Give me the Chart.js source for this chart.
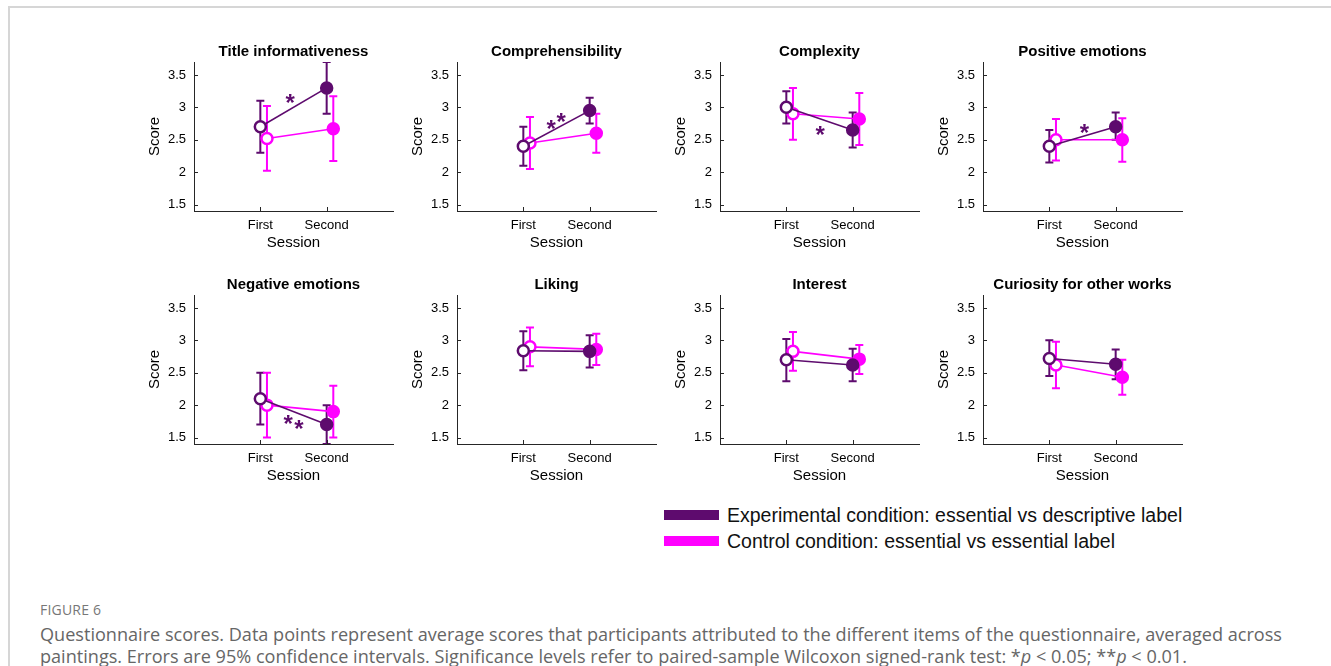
<!DOCTYPE html>
<html>
<head>
<meta charset="utf-8">
<script src="https://cdn.jsdelivr.net/npm/chart.js@4.4.1/dist/chart.umd.min.js"></script>
<style>
  body { margin: 0; background: #fff; width: 1331px; height: 666px; overflow: hidden; position: relative; font-family: 'Liberation Sans', Arial, sans-serif; }
  #frame { position: absolute; left: 8px; top: 6px; width: 1400px; height: 700px; border-top: 2px solid #d6d6d6; border-left: 2px solid #d6d6d6; }
  canvas.panel { position: absolute; }
  .leg { position: absolute; left: 664px; height: 26px; display: flex; align-items: center; font-size: 19.5px; color: #111; white-space: nowrap; }
  .leg span.patch { display: inline-block; width: 55px; height: 10px; margin-right: 8px; }
  #figlabel { position: absolute; left: 40px; top: 600px; font-family: 'Open Sans', sans-serif; font-size: 14px; color: #777; letter-spacing: 0.2px; }
  #caption { position: absolute; left: 40px; top: 624px; font-family: 'Open Sans', sans-serif; font-size: 18.1px; line-height: 21.5px; color: #666; white-space: nowrap; }
</style>
</head>
<body>
<div id="frame"></div>
<div id="panels"></div>
<div class="leg" style="top:502px"><span class="patch" style="background:#5e0b6e"></span>Experimental condition: essential vs descriptive label</div>
<div class="leg" style="top:528px"><span class="patch" style="background:#ff00ff"></span>Control condition: essential vs essential label</div>
<div id="figlabel">FIGURE 6</div>
<div id="caption">Questionnaire scores. Data points represent average scores that participants attributed to the different items of the questionnaire, averaged across<br>paintings. Errors are 95% confidence intervals. Significance levels refer to paired-sample Wilcoxon signed-rank test: *<i>p</i> &lt; 0.05; **<i>p</i> &lt; 0.01.</div>

<script>
// 설문 항목 (패널 제목)
const panelTitles = ['Title informativeness', 'Comprehensibility', 'Complexity', 'Positive emotions',
  'Negative emotions', 'Liking', 'Interest', 'Curiosity for other works'];
const sessions = ['First', 'Second'];
const yTickValues = [1.5, 2, 2.5, 3, 3.5];

// 실험 조건 평균 및 95% 신뢰구간 [First, Second]
const expMean = [[2.7, 3.3], [2.4, 2.95], [3.0, 2.65], [2.4, 2.7], [2.1, 1.7], [2.84, 2.83], [2.7, 2.62], [2.72, 2.63]];
const expLow  = [[2.3, 2.9], [2.1, 2.75], [2.75, 2.38], [2.15, 2.5], [1.7, 1.4], [2.54, 2.58], [2.37, 2.37], [2.45, 2.4]];
const expHigh = [[3.1, 3.7], [2.7, 3.15], [3.25, 2.92], [2.65, 2.92], [2.5, 2.0], [3.14, 3.08], [3.02, 2.87], [3.0, 2.86]];

// 통제 조건 평균 및 95% 신뢰구간
const ctlMean = [[2.52, 2.67], [2.45, 2.6], [2.9, 2.82], [2.5, 2.5], [2.0, 1.9], [2.9, 2.86], [2.83, 2.71], [2.62, 2.43]];
const ctlLow  = [[2.02, 2.17], [2.05, 2.3], [2.5, 2.42], [2.18, 2.16], [1.5, 1.5], [2.6, 2.62], [2.53, 2.48], [2.26, 2.16]];
const ctlHigh = [[3.02, 3.17], [2.85, 2.9], [3.3, 3.22], [2.82, 2.83], [2.5, 2.3], [3.2, 3.1], [3.13, 2.93], [2.98, 2.7]];

// 유의성 표시(*) 위치 [x, y]
const starMarks = [[[1.45, 3.16]], [[1.42, 2.76], [1.57, 2.86]], [[1.51, 2.66]], [[1.53, 2.69]],
  [[1.42, 1.79], [1.58, 1.72]], [], [], []];

const expColor = '#5e0b6e';
const ctlColor = '#ff00ff';
const ctlShift = 0.1;  // 통제 조건은 오른쪽으로 약간 이동
const axisColor = '#262626';
const FONT = "'Liberation Sans', Arial, sans-serif";
const STAR_SIZE = 24;

// 오차 막대
const errorBarPlugin = {
  id: 'errorBars',
  beforeDatasetsDraw(chart) {
    const { ctx, chartArea, scales: { x, y } } = chart;
    ctx.save();
    ctx.beginPath();
    ctx.rect(chartArea.left, chartArea.top, chartArea.right - chartArea.left, chartArea.bottom - chartArea.top);
    ctx.clip();
    chart.data.datasets.forEach(ds => {
      ctx.strokeStyle = ds.borderColor;
      ctx.lineWidth = 2;
      ds.data.forEach((p, i) => {
        const px = x.getPixelForValue(p.x);
        const lo = y.getPixelForValue(ds.errLow[i]);
        const hi = y.getPixelForValue(ds.errHigh[i]);
        ctx.beginPath();
        ctx.moveTo(px, lo); ctx.lineTo(px, hi);
        ctx.moveTo(px - 4, lo); ctx.lineTo(px + 4, lo);
        ctx.moveTo(px - 4, hi); ctx.lineTo(px + 4, hi);
        ctx.stroke();
      });
    });
    ctx.restore();
  }
};

// 안쪽 눈금 및 별표
const decoPlugin = {
  id: 'deco',
  afterDraw(chart, args, opts) {
    const { ctx, chartArea, scales: { x, y } } = chart;
    ctx.save();
    ctx.strokeStyle = axisColor;
    ctx.lineWidth = 1;
    ctx.beginPath();
    yTickValues.forEach(v => {
      const py = Math.round(y.getPixelForValue(v)) + 0.5;
      ctx.moveTo(chartArea.left, py); ctx.lineTo(chartArea.left + 4, py);
    });
    [1, 2].forEach(v => {
      const px = Math.round(x.getPixelForValue(v)) + 0.5;
      ctx.moveTo(px, chartArea.bottom); ctx.lineTo(px, chartArea.bottom - 4);
    });
    ctx.stroke();
    ctx.fillStyle = expColor;
    ctx.font = 'bold ' + STAR_SIZE + 'px ' + FONT;
    ctx.textAlign = 'center';
    ctx.textBaseline = 'alphabetic';
    (opts.stars || []).forEach(s => {
      ctx.fillText('*', x.getPixelForValue(s[0]), y.getPixelForValue(s[1]) + 0.57 * STAR_SIZE);
    });
    ctx.restore();
  }
};

const holder = document.getElementById('panels');

panelTitles.forEach((title, k) => {
  const col = k % 4, row = Math.floor(k / 4);
  const canvas = document.createElement('canvas');
  canvas.className = 'panel';
  canvas.width = 319;   // 왼쪽 축 60 + 그림 199 + 오른쪽 빈 축 60
  canvas.height = 213;
  canvas.style.left = (134 + 263 * col) + 'px';
  canvas.style.top = (row === 0 ? 40 : 273) + 'px';
  holder.appendChild(canvas);

  const makeSet = (label, mean, low, high, color, shift) => ({
    label: label,
    data: sessions.map((s, i) => ({ x: i + 1 + shift, y: mean[i] })),
    errLow: low,
    errHigh: high,
    borderColor: color,
    backgroundColor: color,
    borderWidth: 1.6,
    pointRadius: 5.5,
    pointBorderWidth: 2.5,
    pointBorderColor: color,
    pointBackgroundColor: ['#ffffff', color],
    clip: false
  });

  new Chart(canvas, {
    type: 'line',
    data: {
      datasets: [
        makeSet('Experimental', expMean[k], expLow[k], expHigh[k], expColor, 0),
        makeSet('Control', ctlMean[k], ctlLow[k], ctlHigh[k], ctlColor, ctlShift)
      ]
    },
    options: {
      responsive: false,
      animation: false,
      events: [],
      devicePixelRatio: 1,
      layout: { padding: 0 },
      plugins: {
        legend: { display: false },
        tooltip: { enabled: false },
        title: {
          display: true,
          text: title,
          color: '#000',
          font: { family: FONT, size: 15, weight: 'bold' },
          padding: { top: 3, bottom: 1 }
        },
        deco: { stars: starMarks[k] }
      },
      scales: {
        x: {
          type: 'linear',
          min: 0,
          max: 3,
          afterBuildTicks: s => { s.ticks = [{ value: 1 }, { value: 2 }]; },
          afterFit: s => { s.height = 42; },
          grid: { display: true, drawOnChartArea: false, drawTicks: false },
          border: { display: true, color: axisColor, width: 1 },
          ticks: {
            callback: v => sessions[v - 1],
            color: '#000',
            padding: 7,
            maxRotation: 0,
            autoSkip: false,
            font: { family: FONT, size: 13 }
          },
          title: {
            display: true,
            text: 'Session',
            color: '#000',
            font: { family: FONT, size: 15 },
            padding: { top: 0, bottom: 1 }
          }
        },
        y: {
          min: 1.4,
          max: 3.7,
          afterBuildTicks: s => { s.ticks = yTickValues.map(v => ({ value: v })); },
          afterFit: s => { s.width = 60; },
          grid: { display: true, drawOnChartArea: false, drawTicks: false },
          border: { display: true, color: axisColor, width: 1 },
          ticks: {
            callback: v => String(v),
            color: '#000',
            padding: 8,
            autoSkip: false,
            font: { family: FONT, size: 13 }
          },
          title: {
            display: true,
            text: 'Score',
            color: '#000',
            font: { family: FONT, size: 15 },
            padding: { top: 12, bottom: 0 }
          }
        },
        // 제목을 그림 영역 가운데에 두기 위한 빈 오른쪽 축
        yPad: {
          position: 'right',
          min: 0,
          max: 1,
          afterFit: s => { s.width = 60; },
          grid: { display: false, drawTicks: false },
          border: { display: false },
          ticks: { display: false }
        }
      }
    },
    plugins: [errorBarPlugin, decoPlugin]
  });
});
</script>
</body>
</html>
